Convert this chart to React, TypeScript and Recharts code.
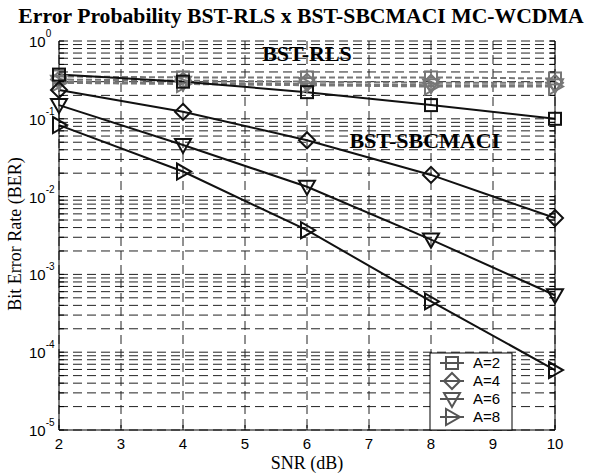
import React from 'react';
import { LineChart, Line, XAxis, YAxis, CartesianGrid, ReferenceDot } from 'recharts';

// SNR points (dB) where the curves were sampled
const snr = [2, 4, 6, 8, 10];
const xTicks = [2, 3, 4, 5, 6, 7, 8, 9, 10];

// log grid: every mantissa of every decade, labels only on decades
const decades = [1e-5, 1e-4, 1e-3, 1e-2, 1e-1];
const mantissas = [1, 2, 3, 4, 5, 6, 7, 8, 9];
const yTicks = [...decades.flatMap((d) => mantissas.map((m) => Number((m * d).toPrecision(3)))), 1];

// BST-RLS (gray dashed)
const rlsA2 = [0.35, 0.34, 0.34, 0.34, 0.33];
const rlsA4 = [0.32, 0.31, 0.3, 0.29, 0.29];
const rlsA6 = [0.3, 0.29, 0.28, 0.27, 0.27];
const rlsA8 = [0.29, 0.28, 0.27, 0.26, 0.26];

// BST-SBCMACI (black solid)
const sbcA2 = [0.37, 0.3, 0.22, 0.15, 0.1];
const sbcA4 = [0.235, 0.123, 0.053, 0.019, 0.0053];
const sbcA6 = [0.15, 0.046, 0.0134, 0.0028, 0.00054];
const sbcA8 = [0.083, 0.021, 0.0037, 0.00045, 0.000059];

const legendLabels = ['A=2', 'A=4', 'A=6', 'A=8'];
const shapes = ['square', 'diamond', 'down', 'right'];

const data = snr.map((s, i) => ({
  snr: s,
  rls2: rlsA2[i],
  rls4: rlsA4[i],
  rls6: rlsA6[i],
  rls8: rlsA8[i],
  sbc2: sbcA2[i],
  sbc4: sbcA4[i],
  sbc6: sbcA6[i],
  sbc8: sbcA8[i],
}));

const SERIF = "'Liberation Serif', 'Times New Roman', serif";
const SANS = "'Liberation Sans', Arial, sans-serif";
const GRAY = '#777';

function Marker({ shape, cx, cy, color, sw = 2 }: { shape: string; cx: number; cy: number; color: string; sw?: number }) {
  const common = { fill: 'none', stroke: color, strokeWidth: sw };
  if (shape === 'square') return <rect x={cx - 6} y={cy - 6} width={12} height={12} {...common} />;
  if (shape === 'diamond')
    return <polygon points={`${cx},${cy - 8} ${cx + 8},${cy} ${cx},${cy + 8} ${cx - 8},${cy}`} {...common} />;
  if (shape === 'down')
    return <polygon points={`${cx - 8},${cy - 6} ${cx + 8},${cy - 6} ${cx},${cy + 8}`} {...common} />;
  return <polygon points={`${cx - 6},${cy - 8} ${cx - 6},${cy + 8} ${cx + 8},${cy}`} {...common} />;
}

const makeDot = (shape: string, color: string) => (p: any) => {
  if (p.cx == null || p.cy == null) return <g key={p.index} />;
  return <Marker key={p.index} shape={shape} cx={p.cx} cy={p.cy} color={color} />;
};

const isDecade = (v: number) => {
  const e = Math.round(Math.log10(v));
  return Math.abs(v / Math.pow(10, e) - 1) < 1e-6;
};

const LeftTick = (p: any) => {
  const { x, y, payload } = p;
  const v = payload.value;
  return (
    <g>
      <line x1={x} x2={x + 5} y1={y} y2={y} stroke="#000" />
      {isDecade(v) && (
        <text x={x - 30} y={y + 6} fontFamily={SANS} fontSize={15} fill="#000">
          10
          <tspan dy={-10} fontSize={10}>
            {Math.round(Math.log10(v))}
          </tspan>
        </text>
      )}
    </g>
  );
};

const RightTick = (p: any) => (
  <line x1={p.x} x2={p.x - 5} y1={p.y} y2={p.y} stroke="#000" />
);

const BottomTick = (p: any) => (
  <g>
    <line x1={p.x} x2={p.x} y1={p.y} y2={p.y - 5} stroke="#000" />
    <text x={p.x} y={p.y + 19} textAnchor="middle" fontFamily={SANS} fontSize={15} fill="#000">
      {p.payload.value}
    </text>
  </g>
);

const TopTick = (p: any) => <line x1={p.x} x2={p.x} y1={p.y} y2={p.y + 5} stroke="#000" />;

const note = (txt: string) => (p: any) => (
  <text x={p.cx} y={p.cy + 7} textAnchor="middle" fontFamily={SERIF} fontWeight="bold" fontSize={22} fill="#000">
    {txt}
  </text>
);

const rlsKeys = ['rls2', 'rls4', 'rls6', 'rls8'];
const sbcKeys = ['sbc2', 'sbc4', 'sbc6', 'sbc8'];

export default function App() {
  return (
    <div style={{ position: 'relative', width: 591, height: 476, background: '#fff' }}>
      <style>{'body{margin:0}'}</style>
      <LineChart width={591} height={476} data={data} margin={{ top: 41, right: 35, bottom: 16, left: 4 }}>
        <CartesianGrid stroke="#222" strokeDasharray="9 5" />
        <XAxis
          dataKey="snr"
          type="number"
          domain={[2, 10]}
          ticks={xTicks}
          interval={0}
          height={30}
          tickSize={0}
          tickMargin={0}
          axisLine={{ stroke: '#000' }}
          tickLine={false}
          tick={<BottomTick />}
        />
        <XAxis
          xAxisId="top"
          orientation="top"
          dataKey="snr"
          type="number"
          domain={[2, 10]}
          ticks={xTicks}
          interval={0}
          height={0}
          tickSize={0}
          tickMargin={0}
          axisLine={false}
          tickLine={false}
          tick={<TopTick />}
        />
        <YAxis
          scale="log"
          type="number"
          domain={[1e-5, 1]}
          allowDataOverflow
          ticks={yTicks}
          interval={0}
          width={55}
          tickSize={0}
          tickMargin={0}
          axisLine={{ stroke: '#000' }}
          tickLine={false}
          tick={<LeftTick />}
        />
        <YAxis
          yAxisId="right"
          orientation="right"
          scale="log"
          type="number"
          domain={[1e-5, 1]}
          allowDataOverflow
          ticks={yTicks}
          interval={0}
          width={1}
          tickSize={0}
          tickMargin={0}
          axisLine={{ stroke: '#000' }}
          tickLine={false}
          tick={<RightTick />}
        />
        {rlsKeys.map((k, i) => (
          <Line
            key={k}
            dataKey={k}
            type="linear"
            stroke={GRAY}
            strokeWidth={2}
            strokeDasharray="6 3"
            dot={makeDot(shapes[i], GRAY)}
            isAnimationActive={false}
          />
        ))}
        {sbcKeys.map((k, i) => (
          <Line
            key={k}
            dataKey={k}
            type="linear"
            stroke="#111"
            strokeWidth={2}
            dot={makeDot(shapes[i], '#111')}
            isAnimationActive={false}
          />
        ))}
        <ReferenceDot x={6} y={0.68} r={0} shape={note('BST-RLS')} />
        <ReferenceDot x={7.9} y={0.0526} r={0} shape={note('BST-SBCMACI')} />
      </LineChart>
      <svg width={591} height={476} style={{ position: 'absolute', left: 0, top: 0, pointerEvents: 'none' }}>
        <text x={301} y={23} textAnchor="middle" fontFamily={SERIF} fontWeight="bold" fontSize={21.7} fill="#000">
          Error Probability BST-RLS x BST-SBCMACI MC-WCDMA
        </text>
        <text x={307} y={469} textAnchor="middle" fontFamily={SERIF} fontSize={18} fill="#000">
          SNR (dB)
        </text>
        <text
          transform="translate(21,234) rotate(-90)"
          textAnchor="middle"
          fontFamily={SERIF}
          fontSize={18}
          fill="#000"
        >
          Bit Error Rate (BER)
        </text>
        <g transform="translate(430,353)">
          <rect x={0} y={0} width={82} height={77} fill="#fff" stroke="#000" />
          {legendLabels.map((lab, i) => (
            <g key={lab}>
              <line x1={10} x2={34} y1={10 + i * 18} y2={10 + i * 18} stroke="#555" strokeWidth={2} />
              <Marker shape={shapes[i]} cx={22} cy={10 + i * 18} color="#555" />
              <text x={43} y={15 + i * 18} fontFamily={SANS} fontSize={15} fill="#000">
                {lab}
              </text>
            </g>
          ))}
        </g>
      </svg>
    </div>
  );
}
